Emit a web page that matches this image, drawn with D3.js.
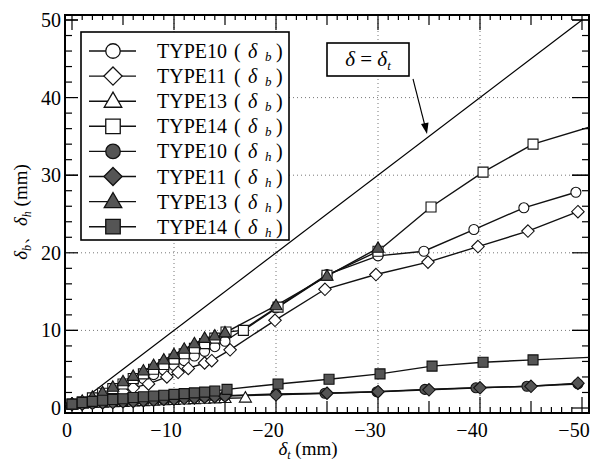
<!DOCTYPE html>
<html><head><meta charset="utf-8">
<script src="https://cdn.jsdelivr.net/npm/d3@7"></script>
<style>body{margin:0;background:#fff}svg{display:block}</style></head>
<body><svg id="c" width="610" height="466"></svg>
<script>
// ---- data ----
const xTicks = [0, -10, -20, -30, -40, -50];
const yTicks = [0, 10, 20, 30, 40, 50];
const xTickLabels = ["0", "−10", "−20", "−30", "−40", "−50"];
const yTickLabels = ["0", "10", "20", "30", "40", "50"];
const seriesNames = ["TYPE10", "TYPE11", "TYPE13", "TYPE14", "TYPE10", "TYPE11", "TYPE13", "TYPE14"];
const seriesSubs = ["b", "b", "b", "b", "h", "h", "h", "h"];

const type10_b_x = [0,-1,-2,-3,-4,-5,-6,-7,-8,-9,-10,-11,-12,-13,-14,-15,-20,-25,-30,-34.5,-39.4,-44.3,-49.4];
const type10_b_y = [0.5,0.7,1.0,1.5,2.0,2.6,3.2,3.8,4.3,4.9,5.5,6.1,6.7,7.3,7.9,8.6,12.9,17.2,19.6,20.2,23.0,25.8,27.8];
const type11_b_x = [0,-1,-2,-3,-4,-5,-6,-7.5,-9.3,-10.4,-11.4,-13,-13.7,-15.5,-19.9,-24.8,-29.8,-34.9,-39.8,-44.7,-49.6];
const type11_b_y = [0.5,0.6,0.9,1.2,1.6,2.1,2.6,3.1,4.0,4.6,5.1,5.8,6.1,7.5,11.3,15.3,17.2,18.8,20.8,22.8,25.3];
const type13_b_x = [0,-1,-2,-3,-4,-5,-6,-7,-8,-9,-10,-11,-12,-13,-14,-15,-17];
const type13_b_y = [0.4,0.5,0.6,0.65,0.7,0.75,0.8,0.85,0.9,0.95,1.0,1.05,1.1,1.15,1.2,1.25,1.3];
const type14_b_x = [0,-1,-2,-3,-4,-5,-6,-7,-8,-9,-10,-11,-12,-13,-14,-15.1,-16.8,-20.2,-25,-30,-35.2,-40.3,-45.2,-52];
const type14_b_y = [0.5,0.8,1.3,1.9,2.5,3.1,3.8,4.4,5.0,5.6,6.3,7.0,7.7,8.3,9.0,9.8,10.0,13.0,17.1,20.2,25.9,30.4,34.0,36.7];

const type10_h_x = [0,-1,-2,-3,-4,-5,-6,-7,-8,-9,-10,-11,-12,-13,-14,-15,-20,-24.8,-29.9,-34.6,-39.6,-44.6,-49.6];
const type10_h_y = [0.5,0.55,0.6,0.7,0.75,0.8,0.9,1.0,1.05,1.1,1.2,1.3,1.35,1.45,1.5,1.6,1.8,1.9,2.1,2.4,2.6,2.8,3.1];
const type11_h_x = [0,-1,-2,-3,-4,-5,-6,-7,-8,-9,-10,-11,-12,-13,-14,-15,-20,-25,-30,-35,-40,-45,-49.6];
const type11_h_y = [0.45,0.5,0.6,0.65,0.7,0.8,0.85,0.95,1.0,1.1,1.15,1.25,1.3,1.4,1.45,1.55,1.7,1.9,2.1,2.35,2.6,2.8,3.2];
const type13_h_x = [0,-1,-2,-3,-4,-5,-6,-7,-8,-9,-10,-11,-12,-13,-14,-15,-20,-25,-30];
const type13_h_y = [0.5,0.9,1.4,2.0,2.7,3.4,4.1,4.8,5.5,6.2,6.9,7.6,8.3,9.0,9.3,9.7,13.2,17.0,20.6];
const type14_h_x = [0,-1,-2,-3,-4,-5,-6,-7,-8,-9,-10,-11,-12,-13,-14,-15.2,-20.2,-25.2,-30.2,-35.3,-40.3,-45.2,-52];
const type14_h_y = [0.5,0.7,0.85,1.0,1.1,1.2,1.35,1.45,1.55,1.65,1.75,1.85,1.95,2.05,2.2,2.4,3.1,3.7,4.4,5.4,5.9,6.2,6.6];

const refLineX = [-2, -50];
const refLineY = [2, 50];

// ---- chart ----
const svg = d3.select("#c");
const serif = "'Liberation Serif','DejaVu Serif',serif";
const x = d3.scaleLinear().domain([0, -50]).range([72, 582]);
const y = d3.scaleLinear().domain([0, 50]).range([408, 20]);
const F = {l: 65, r: 589, t: 15, b: 413};

const series = [
  {xs: type10_b_x, ys: type10_b_y, sym: "circle", fill: "#fff", r: 5},
  {xs: type11_b_x, ys: type11_b_y, sym: "diamond", fill: "#fff", r: 5},
  {xs: type13_b_x, ys: type13_b_y, sym: "triangle", fill: "#fff", r: 5.5},
  {xs: type14_b_x, ys: type14_b_y, sym: "square", fill: "#fff", r: 5},
  {xs: type10_h_x, ys: type10_h_y, sym: "circle", fill: "#555", r: 5},
  {xs: type11_h_x, ys: type11_h_y, sym: "diamond", fill: "#555", r: 5},
  {xs: type13_h_x, ys: type13_h_y, sym: "triangle", fill: "#555", r: 5.5},
  {xs: type14_h_x, ys: type14_h_y, sym: "square", fill: "#555", r: 5}
];
function symPath(kind, r) {
  if (kind === "circle") return d3.symbol().type(d3.symbolCircle).size(Math.PI * r * r)();
  if (kind === "square") return `M${-r},${-r}H${r}V${r}H${-r}Z`;
  if (kind === "diamond") { const d = r * 1.25; return `M0,${-d}L${d},0L0,${d}L${-d},0Z`; }
  const h = r * 1.9, w = r * 1.1;
  return `M0,${-h * 0.6}L${w},${h * 0.4}L${-w},${h * 0.4}Z`;
}

svg.append("defs").append("clipPath").attr("id", "clip")
  .append("rect").attr("x", F.l).attr("y", F.t).attr("width", F.r - F.l).attr("height", F.b - F.t);

// grid
const grid = svg.append("g").attr("stroke", "#777").attr("stroke-width", 1).attr("stroke-dasharray", "1,3");
[-10, -20, -30, -40].forEach(v => grid.append("line").attr("x1", x(v)).attr("x2", x(v)).attr("y1", F.t).attr("y2", F.b));
[10, 20, 30, 40].forEach(v => grid.append("line").attr("x1", F.l).attr("x2", F.r).attr("y1", y(v)).attr("y2", y(v)));

// ticks
const tk = svg.append("g").attr("stroke", "#000").attr("stroke-width", 1.2);
d3.range(0, -51, -1).forEach(v => {
  const len = v % 10 === 0 ? 16 : (v % 5 === 0 ? 12 : 6);
  const lt = v % 10 === 0 ? 15 : (v % 5 === 0 ? 10 : 5);
  tk.append("line").attr("x1", x(v)).attr("x2", x(v)).attr("y1", F.b).attr("y2", F.b - len);
  tk.append("line").attr("x1", x(v)).attr("x2", x(v)).attr("y1", F.t).attr("y2", F.t + lt);
});
d3.range(0, 51, 2).concat([10, 30, 50]).forEach(v => {
  const big = v % 10 === 0;
  tk.append("line").attr("y1", y(v)).attr("y2", y(v)).attr("x1", F.l).attr("x2", F.l + (big ? 13 : 7));
  tk.append("line").attr("y1", y(v)).attr("y2", y(v)).attr("x1", F.r).attr("x2", F.r - (big ? 17 : 7));
});

// frame
svg.append("rect").attr("x", F.l).attr("y", F.t).attr("width", F.r - F.l).attr("height", F.b - F.t)
  .attr("fill", "none").attr("stroke", "#000").attr("stroke-width", 2);

// tick labels
svg.append("g").selectAll("text").data(xTicks).join("text")
  .attr("x", (d, i) => x(d) - (i === 0 ? 5 : 8)).attr("y", 437).attr("text-anchor", "middle")
  .attr("font-family", serif).attr("font-size", 20).text((d, i) => xTickLabels[i]);
svg.append("g").selectAll("text").data(yTicks).join("text")
  .attr("x", 61).attr("y", d => y(d) + 7).attr("text-anchor", "end")
  .attr("font-family", serif).attr("font-size", 20).text((d, i) => yTickLabels[i]);

// axis titles
const xt = svg.append("text").attr("x", 308).attr("y", 455).attr("text-anchor", "middle")
  .attr("font-family", serif).attr("font-size", 19);
xt.append("tspan").attr("font-style", "italic").text("δ");
xt.append("tspan").attr("font-style", "italic").attr("font-size", 12).attr("dy", 4).text("t");
xt.append("tspan").attr("dy", -4).text(" (mm)");
const yt = svg.append("text").attr("transform", "translate(27,212) rotate(-90)").attr("text-anchor", "middle")
  .attr("font-family", serif).attr("font-size", 19);
yt.append("tspan").attr("font-style", "italic").text("δ");
yt.append("tspan").attr("font-style", "italic").attr("font-size", 12).attr("dy", 4).text("b");
yt.append("tspan").attr("dy", -4).text("、");
yt.append("tspan").attr("font-style", "italic").text("δ");
yt.append("tspan").attr("font-style", "italic").attr("font-size", 12).attr("dy", 4).text("h");
yt.append("tspan").attr("dy", -4).text(" (mm)");

// data
const plot = svg.append("g").attr("clip-path", "url(#clip)");
plot.append("line").attr("x1", x(refLineX[0])).attr("y1", y(refLineY[0]))
  .attr("x2", x(refLineX[1])).attr("y2", y(refLineY[1])).attr("stroke", "#000").attr("stroke-width", 1.2);
const line = d3.line().x(d => x(d[0])).y(d => y(d[1]));
series.forEach(s => {
  const pts = s.xs.map((v, i) => [v, s.ys[i]]);
  plot.append("path").attr("d", line(pts)).attr("fill", "none").attr("stroke", "#111").attr("stroke-width", 1.4);
});
series.forEach(s => {
  const pts = s.xs.map((v, i) => [v, s.ys[i]]);
  plot.append("g").selectAll("path").data(pts).join("path")
    .attr("transform", d => `translate(${x(d[0])},${y(d[1])})`)
    .attr("d", symPath(s.sym, s.r))
    .attr("fill", s.fill).attr("stroke", "#111").attr("stroke-width", 1.1);
});

// legend
const lg = svg.append("g");
lg.append("rect").attr("x", 81).attr("y", 32).attr("width", 208).attr("height", 208)
  .attr("fill", "#fff").attr("stroke", "#000").attr("stroke-width", 1.6);
series.forEach((s, i) => {
  const cy = 51 + i * 25.1;
  lg.append("line").attr("x1", 89).attr("x2", 136).attr("y1", cy).attr("y2", cy).attr("stroke", "#111").attr("stroke-width", 1.4);
  lg.append("path").attr("transform", `translate(113,${cy})`)
    .attr("d", symPath(s.sym, s.r * 1.45))
    .attr("fill", s.fill).attr("stroke", "#111").attr("stroke-width", 1.3);
  const t = lg.append("g").attr("font-family", serif).attr("font-size", 20);
  t.append("text").attr("x", 157).attr("y", cy + 7).text(seriesNames[i]);
  t.append("text").attr("x", 234).attr("y", cy + 7).text("(");
  t.append("text").attr("x", 248).attr("y", cy + 7).attr("font-style", "italic").text("δ");
  t.append("text").attr("x", 265).attr("y", cy + 10).attr("font-style", "italic").attr("font-size", 13).text(seriesSubs[i]);
  t.append("text").attr("x", 276).attr("y", cy + 7).text(")");
});

// annotation
svg.append("rect").attr("x", 327).attr("y", 43).attr("width", 82).attr("height", 33)
  .attr("fill", "#fff").attr("stroke", "#000").attr("stroke-width", 1.6);
const at = svg.append("text").attr("x", 368).attr("y", 66).attr("text-anchor", "middle")
  .attr("font-family", serif).attr("font-size", 21);
at.append("tspan").attr("font-style", "italic").text("δ");
at.append("tspan").text(" = ");
at.append("tspan").attr("font-style", "italic").text("δ");
at.append("tspan").attr("font-style", "italic").attr("font-size", 13).attr("dy", 4).text("t");
svg.append("line").attr("x1", 413).attr("y1", 79).attr("x2", 425).attr("y2", 126).attr("stroke", "#000").attr("stroke-width", 1.1);
svg.append("path").attr("d", "M421,124 L427,134 L428.5,122.5 Z").attr("fill", "#000");
</script>
</body></html>
